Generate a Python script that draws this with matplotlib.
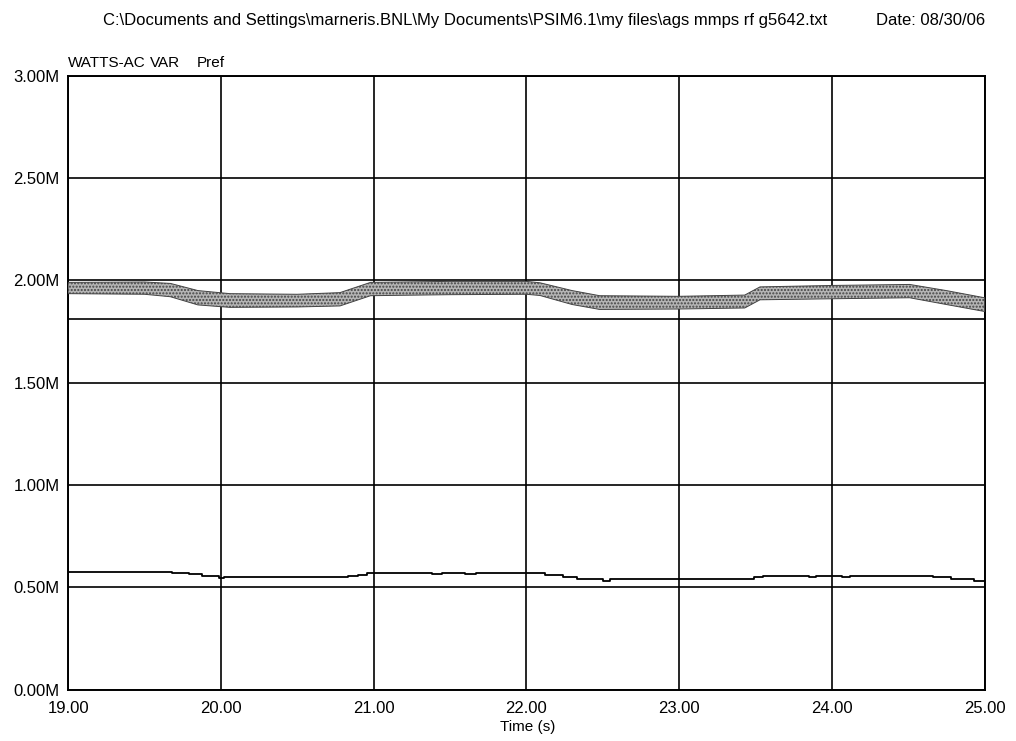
import matplotlib.pyplot as plt

plt.rcParams['font.family'] = ['Liberation Sans', 'DejaVu Sans']

# WATTS-AC: noisy band, upper / lower edge (MW)
watts_t = [19.00, 19.50, 19.67, 19.85, 20.06, 20.50, 20.78, 20.98, 21.50, 22.00,
           22.09, 22.30, 22.48, 23.00, 23.43, 23.53, 24.00, 24.51, 24.75, 25.00]
watts_hi = [1.990, 1.992, 1.985, 1.950, 1.935, 1.932, 1.940, 1.990, 1.995, 1.995,
            1.988, 1.950, 1.925, 1.922, 1.928, 1.968, 1.975, 1.980, 1.950, 1.915]
watts_lo = [1.935, 1.932, 1.920, 1.880, 1.868, 1.870, 1.875, 1.925, 1.930, 1.932,
            1.926, 1.882, 1.858, 1.860, 1.865, 1.905, 1.910, 1.915, 1.882, 1.848]

# VAR: stepped line (MVAR)
var_t = [19.00, 19.68, 19.79, 19.88, 19.99, 20.02, 20.83, 20.90, 20.96, 21.02,
         21.38, 21.45, 21.60, 21.67, 22.12, 22.24, 22.33, 22.50, 22.55, 22.83,
         23.49, 23.55, 23.85, 23.90, 24.07, 24.12, 24.66, 24.78, 24.93, 25.00]
var_v = [0.578, 0.573, 0.566, 0.556, 0.546, 0.550, 0.555, 0.563, 0.570, 0.572,
         0.566, 0.572, 0.566, 0.572, 0.560, 0.553, 0.540, 0.534, 0.540, 0.542,
         0.552, 0.558, 0.550, 0.558, 0.550, 0.558, 0.550, 0.540, 0.530, 0.530]

# Pref: constant reference
pref_t = [19.0, 25.0]
pref_v = [1.81, 1.81]

x_ticks = [19, 20, 21, 22, 23, 24, 25]
y_ticks = [0.0, 0.5, 1.0, 1.5, 2.0, 2.5, 3.0]

fig = plt.figure(figsize=(10.16, 7.41), dpi=100)
ax = fig.add_axes([0.067, 0.069, 0.902, 0.829])

ax.fill_between(watts_t, watts_lo, watts_hi, facecolor='#b5b5b5',
                edgecolor='#444444', linewidth=0.7, hatch='.....', zorder=3)
ax.plot(var_t, var_v, color='black', linewidth=1.3, drawstyle='steps-post', zorder=3)
ax.plot(pref_t, pref_v, color='black', linewidth=1.2, zorder=3)

ax.set_xlim(19, 25)
ax.set_ylim(0, 3)
ax.set_xticks(x_ticks)
ax.set_xticklabels([f'{v:.2f}' for v in x_ticks])
ax.set_yticks(y_ticks)
ax.set_yticklabels([f'{v:.2f}M' for v in y_ticks])
ax.tick_params(length=0, labelsize=12, pad=6)
ax.tick_params(axis='x', pad=8)
ax.grid(True, color='black', linewidth=1.2)
for s in ax.spines.values():
    s.set_linewidth(1.4)

# x axis title sits just under the tick labels
fig.text(0.519, 0.019, 'Time (s)', fontsize=11, ha='center', va='center')

fig.text(0.101, 0.972,
         r'C:\Documents and Settings\marneris.BNL\My Documents\PSIM6.1\my files\ags mmps rf g5642.txt',
         fontsize=12, va='center', ha='left')
fig.text(0.970, 0.972, 'Date: 08/30/06', fontsize=12, va='center', ha='right')

fig.text(0.067, 0.915, 'WATTS-AC', fontsize=11, va='center')
fig.text(0.148, 0.915, 'VAR', fontsize=11, va='center')
fig.text(0.194, 0.915, 'Pref', fontsize=11, va='center')

fig.savefig('out.png', dpi=100)
